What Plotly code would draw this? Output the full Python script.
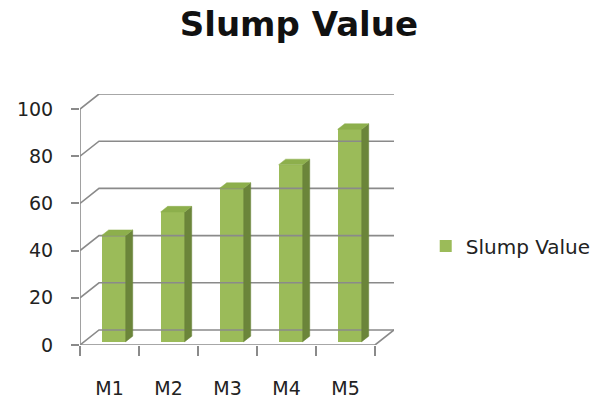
import plotly.graph_objects as go

categories = ["M1", "M2", "M3", "M4", "M5"]
values = [45, 55, 65, 75, 90]
y_ticks = [0, 20, 40, 60, 80, 100]
series_name = "Slump Value"

# 3D-look geometry (in data units)
DX = 0.322      # depth offset along x (category units)
DY = 6.36       # depth offset along y (value units)
F0 = 0.22       # depth fraction where bar front face sits
FD = 0.37       # depth fraction of bar thickness
BW = 0.407      # bar width
GRID = "#8a8a8a"
FRONT = "#9BBB59"
SIDE = "#6B853A"
TOP = "#8DAF4C"

n = len(categories)
ymax = y_ticks[-1]
fig = go.Figure()

# back wall gridlines + left wall diagonals
for v in y_ticks:
    fig.add_trace(go.Scatter(x=[0, DX, n + DX], y=[v, v + DY, v + DY], mode="lines",
                             line=dict(color=GRID, width=1.6), hoverinfo="skip", showlegend=False))
# front axis line
fig.add_trace(go.Scatter(x=[0, 0], y=[0, ymax], mode="lines",
                         line=dict(color=GRID, width=1.6), hoverinfo="skip", showlegend=False))
# floor front edge and right edge
fig.add_trace(go.Scatter(x=[0, n, n + DX], y=[0, 0, DY], mode="lines",
                         line=dict(color=GRID, width=1.6), hoverinfo="skip", showlegend=False))

# bars
base = F0 * DY
cx = [i + 0.5 + F0 * DX for i in range(n)]
ddx, ddy = FD * DX, FD * DY
for c, v in zip(cx, values):
    xl, xr = c - BW / 2, c + BW / 2
    fig.add_trace(go.Scatter(x=[xr, xr + ddx, xr + ddx, xr, xr],
                             y=[base, base + ddy, base + v + ddy, base + v, base],
                             fill="toself", fillcolor=SIDE, mode="lines",
                             line=dict(color=SIDE, width=0.5), hoverinfo="skip", showlegend=False))
    fig.add_trace(go.Scatter(x=[xl, xl + ddx, xr + ddx, xr, xl],
                             y=[base + v, base + v + ddy, base + v + ddy, base + v, base + v],
                             fill="toself", fillcolor=TOP, mode="lines",
                             line=dict(color=TOP, width=0.5), hoverinfo="skip", showlegend=False))
fig.add_trace(go.Bar(x=cx, y=values, base=base, width=BW, name=series_name,
                     marker=dict(color=FRONT, line=dict(width=0)), showlegend=True))

# label axis (categories in the middle of each slot)
fig.add_trace(go.Scatter(x=[i + 0.5 for i in range(n)], y=[0] * n, xaxis="x2", mode="markers",
                         marker=dict(opacity=0), hoverinfo="skip", showlegend=False))

font = "DejaVu Sans"
fig.update_layout(
    width=590, height=392,
    margin=dict(l=72, r=204, t=86, b=55, autoexpand=False),
    paper_bgcolor="white", plot_bgcolor="white",
    title=dict(text="Slump Value", x=0.493, xref="container", xanchor="center",
               y=0.958, yref="container", yanchor="middle",
               font=dict(family=font, size=34, color="#111", weight="bold")),
    xaxis=dict(range=[0, n + DX], showgrid=False, zeroline=False, showline=False, automargin=False,
               tickvals=list(range(n + 1)), ticktext=[""] * (n + 1),
               ticks="outside", ticklen=10, tickcolor=GRID, tickwidth=1.6),
    xaxis2=dict(range=[0, n + DX], overlaying="x", side="bottom", anchor="y", automargin=False,
                showgrid=False, zeroline=False, showline=False,
                tickvals=[i + 0.5 for i in range(n)], ticktext=categories,
                ticks="outside", ticklen=26, tickcolor="rgba(0,0,0,0)",
                tickfont=dict(family=font, size=19, color="#222")),
    yaxis=dict(range=[0, ymax + DY], showgrid=False, zeroline=False, showline=False, automargin=False,
               tickvals=y_ticks, ticks="outside", ticklen=8, tickcolor=GRID, tickwidth=1.6,
               ticklabelstandoff=14,
               tickfont=dict(family=font, size=19, color="#222")),
    legend=dict(x=0.708, y=0.393, xref="container", yref="container",
                xanchor="left", yanchor="middle",
                font=dict(family=font, size=20, color="#222"), bgcolor="rgba(0,0,0,0)"),
    showlegend=True,
    bargap=0,
)

fig.write_html("out.html")
